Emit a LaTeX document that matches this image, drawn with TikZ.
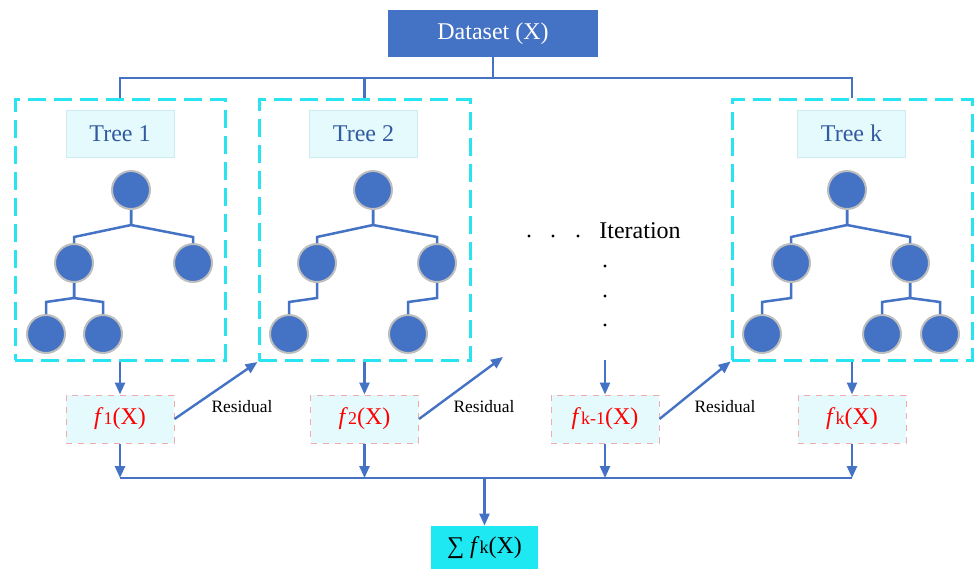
\documentclass[tikz,border=0pt]{standalone}
\usepackage{fontspec}
\setmainfont{Liberation Serif}
\usetikzlibrary{arrows.meta,calc}

\definecolor{boxblue}{RGB}{68,114,196}
\definecolor{leafrim}{RGB}{190,190,190}
\definecolor{dashcyan}{RGB}{40,228,240}
\definecolor{tagfill}{RGB}{228,250,252}
\definecolor{tagrim}{RGB}{205,236,240}
\definecolor{tagtext}{RGB}{50,90,160}
\definecolor{fpink}{RGB}{240,170,170}
\definecolor{sumcyan}{RGB}{30,232,242}

% small index after an italic f
\newcommand{\fidx}[1]{{\fontsize{9}{9}\selectfont #1}}
% elbow branch from a parent circle down to a child circle
\newcommand{\branch}[3][6]{\draw[branch] (#2.south) -- ++(0,15) -- ($(#3.north)+(0,-#1)$) -- (#3.north);}

\begin{document}
\begin{tikzpicture}[x=0.5pt,y=-0.5pt,
	every node/.style={font=\fontsize{12}{14}\selectfont},
	leaf/.style={circle, fill=boxblue, draw=leafrim, line width=1pt, minimum size=19pt, inner sep=0pt},
	branch/.style={draw=boxblue, line width=1.25pt},
	flow/.style={draw=boxblue, line width=1.2pt},
	arrow/.style={flow, -{Triangle[length=6pt,width=5pt]}},
	treebox/.style={draw=dashcyan, line width=1.5pt, dash pattern=on 9pt off 4pt, minimum height=130.5pt, inner sep=0pt},
	tag/.style={fill=tagfill, draw=tagrim, line width=0.4pt, minimum width=54pt, minimum height=23.5pt, inner sep=0pt, text=tagtext},
	fbox/.style={fill=tagfill, draw=fpink, dashed, line width=0.5pt, minimum width=54pt, minimum height=24pt, inner sep=0pt, text=red},
	]
	
	\useasboundingbox (0,0) rectangle (975,569);
	
	% input
	\node [fill=boxblue, text=white, minimum width=105pt, minimum height=23.5pt, inner sep=0pt] (data) at (493,33.5) {Dataset (X)};
	
	% tree frames
	\node [treebox, minimum width=105pt] (box1) at (120,229.5) {};
	\node [treebox, minimum width=105.5pt] (box2) at (364.5,230) {};
	\node [treebox, minimum width=120pt] (boxk) at (852,229.5) {};
	
	\node [tag] (tag1) at (120,133.5) {Tree 1};
	\node [tag] (tag2) at (363.5,133.5) {Tree 2};
	\node [tag] (tagk) at (851.5,133.5) {Tree k};
	
	% tree 1
	\node [leaf] (t1r) at (131,190) {};
	\node [leaf] (t1a) at (74,263) {};
	\node [leaf] (t1b) at (193,263) {};
	\node [leaf] (t1c) at (46,334) {};
	\node [leaf] (t1d) at (103,334) {};
	\branch{t1r}{t1a}
	\branch{t1r}{t1b}
	\branch[12]{t1a}{t1c}
	\branch[12]{t1a}{t1d}
	
	% tree 2
	\node [leaf] (t2r) at (373,190) {};
	\node [leaf] (t2a) at (317,263) {};
	\node [leaf] (t2b) at (437,263) {};
	\node [leaf] (t2c) at (289,334) {};
	\node [leaf] (t2d) at (408,334) {};
	\branch{t2r}{t2a}
	\branch{t2r}{t2b}
	\branch[12]{t2a}{t2c}
	\branch[12]{t2b}{t2d}
	
	% tree k
	\node [leaf] (tkr) at (847,190) {};
	\node [leaf] (tka) at (791,263) {};
	\node [leaf] (tkb) at (910,263) {};
	\node [leaf] (tkc) at (762,334) {};
	\node [leaf] (tkd) at (882,334) {};
	\node [leaf] (tke) at (940,334) {};
	\branch{tkr}{tka}
	\branch{tkr}{tkb}
	\branch[12]{tka}{tkc}
	\branch[12]{tkb}{tkd}
	\branch[12]{tkb}{tke}
	
	% iteration
	\foreach \x in {529,553,578} \fill (\x,236) circle (0.8pt);
	\foreach \y in {266,296,325} \fill (605,\y) circle (0.8pt);
	\node [anchor=base west, inner sep=0pt] (iter) at (599,238) {Iteration};
	\coordinate (itend) at (605,360);
	
	% tree outputs
	\node [fbox] (f1) at (120,419) {\textit{f}\fidx{1}(X)};
	\node [fbox] (f2) at (364.5,419) {\textit{f}\fidx{2}(X)};
	\node [fbox] (fk1) at (605,419) {\textit{f}\fidx{k-1}(X)};
	\node [fbox] (fk) at (852,419) {\textit{f}\fidx{k}(X)};
	
	\node [fill=sumcyan, minimum width=53.5pt, minimum height=21.5pt, inner sep=0pt] (sum) at (484.5,547.5) {∑ \textit{f}\fidx{k}(X)};
	
	% dataset to trees
	\coordinate (bus) at (493,78);
	\draw [flow] (data.south) -- (bus);
	\draw [flow] (box1.north) |- (bus) -| (boxk.north);
	\draw [flow] (bus -| box2.north) -- (box2.north);
	
	% trees to outputs
	\draw [arrow] (box1.south) -- (f1.north);
	\draw [arrow] (box2.south) -- (f2.north);
	\draw [arrow] (itend) -- (fk1.north);
	\draw [arrow] (boxk.south) -- (fk.north);
	
	% residuals
	\coordinate (res2end) at (503,357);
	\draw [arrow] (f1.east) -- (box2.south west);
	\draw [arrow] (f2.east) -- (res2end);
	\draw [arrow] (fk1.east) -- (boxk.south west);
	\node [font=\fontsize{8.7}{10}\selectfont] (res1) at (242,407) {Residual};
	\node [font=\fontsize{8.7}{10}\selectfont] (res2) at (484,407) {Residual};
	\node [font=\fontsize{8.7}{10}\selectfont] (res3) at (725,407) {Residual};
	
	% sum
	\coordinate (sumbus) at (484.5,478);
	\draw [flow] (f1.south |- sumbus) -- (fk.south |- sumbus);
	\draw [arrow] (f1.south) -- (f1.south |- sumbus);
	\draw [arrow] (f2.south) -- (f2.south |- sumbus);
	\draw [arrow] (fk1.south) -- (fk1.south |- sumbus);
	\draw [arrow] (fk.south) -- (fk.south |- sumbus);
	\draw [arrow] (sumbus) -- (sum.north);
	
\end{tikzpicture}
\end{document}
